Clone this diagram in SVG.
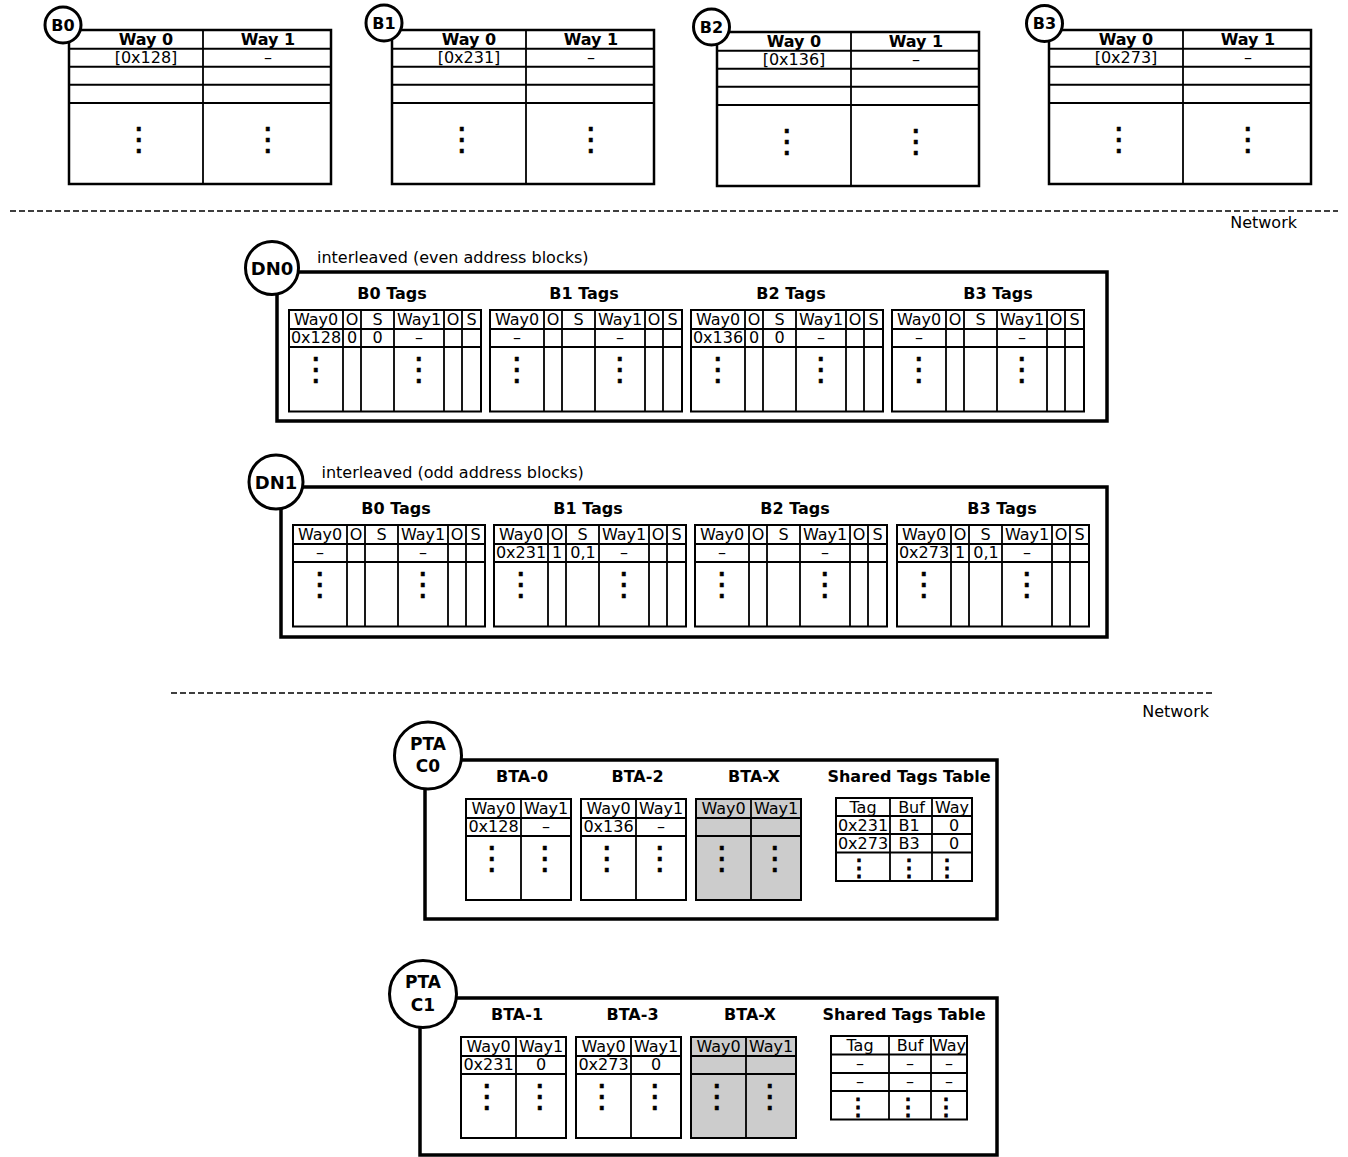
<svg xmlns="http://www.w3.org/2000/svg" xmlns:xlink="http://www.w3.org/1999/xlink" width="1348" height="1157" viewBox="0 0 1348 1157">
<style>
.t{font-family:"DejaVu Sans",Verdana,sans-serif;font-size:16px;text-anchor:middle;fill:#000}
.b{font-weight:bold}
.st{text-anchor:start}
.en{text-anchor:end}
.dots{font-family:"DejaVu Sans",sans-serif;font-size:32px;text-anchor:middle;fill:#000;stroke:#000;stroke-width:0.6}
.sdots{font-family:"DejaVu Sans",sans-serif;font-size:24px;text-anchor:middle;fill:#000;stroke:#000;stroke-width:0.9}
.frame{fill:#fff;stroke:#000;stroke-width:2.5}
.gframe{fill:#ccc;stroke:#000;stroke-width:2}
.thin{fill:#fff;stroke:#000;stroke-width:2}
.ln{stroke:#000;stroke-width:1.8;fill:none}
.ln2{stroke:#000;stroke-width:2;fill:none}
.outer{fill:#fff;stroke:#000;stroke-width:3.5}
.nc{fill:#fff;stroke:#000;stroke-width:3}
.dash{stroke:#000;stroke-width:1.6;stroke-dasharray:6 3;fill:none}
</style>
<defs>
<g id="bframe">
<rect class="frame" x="0" y="0" width="262" height="154"/>
<line class="ln" x1="134" y1="0" x2="134" y2="154"/>
<line class="ln2" x1="0" y1="18.7" x2="262" y2="18.7"/>
<line class="ln2" x1="0" y1="36.7" x2="262" y2="36.7"/>
<line class="ln2" x1="0" y1="54.7" x2="262" y2="54.7"/>
<line class="ln2" x1="0" y1="73" x2="262" y2="73"/>
</g>
<g id="dnframe">
<rect class="thin" x="0" y="0" width="192" height="101.5"/>
<path class="ln" d="M54 0V101.5M72 0V101.5M105 0V101.5M155 0V101.5M173 0V101.5M0 19H192M0 37H192"/>
</g>
<g id="btaframe">
<rect class="thin" x="0" y="0" width="105" height="101"/>
<path class="ln" d="M55 0V101M0 19H105M0 37H105"/>
</g>
<g id="btaxframe">
<rect class="gframe" x="0" y="0" width="105" height="101"/>
<path class="ln" d="M55 0V101M0 19H105M0 37H105"/>
</g>
</defs>

<g id="separators">
<line class="dash" x1="10" y1="211" x2="1338" y2="211"/>
<text class="t en" x="1297" y="227.5">Network</text>
<line class="dash" x1="171" y1="693" x2="1212" y2="693"/>
<text class="t en" x="1209" y="717">Network</text>
</g>
<g id="connectors"/>

<!-- Top banks -->
<g id="B0" transform="translate(69,30)">
<use xlink:href="#bframe"/>
<text class="t b" x="77" y="14.5">Way 0</text>
<text class="t b" x="199" y="14.5">Way 1</text>
<text class="t" x="77" y="32.5">[0x128]</text>
<text class="t" x="199" y="32.5">–</text>
<text class="dots" x="70" y="120.3">⋮</text>
<text class="dots" x="199" y="120.3">⋮</text>
<circle class="nc" cx="-6" cy="-5" r="18"/>
<text class="t b" x="-6" y="0.8">B0</text>
</g>
<g id="B1" transform="translate(392,30)">
<use xlink:href="#bframe"/>
<text class="t b" x="77" y="14.5">Way 0</text>
<text class="t b" x="199" y="14.5">Way 1</text>
<text class="t" x="77" y="32.5">[0x231]</text>
<text class="t" x="199" y="32.5">–</text>
<text class="dots" x="70" y="120.3">⋮</text>
<text class="dots" x="199" y="120.3">⋮</text>
<circle class="nc" cx="-8" cy="-7" r="18"/>
<text class="t b" x="-8" y="-1.2">B1</text>
</g>
<g id="B2" transform="translate(717,32)">
<use xlink:href="#bframe"/>
<text class="t b" x="77" y="14.5">Way 0</text>
<text class="t b" x="199" y="14.5">Way 1</text>
<text class="t" x="77" y="32.5">[0x136]</text>
<text class="t" x="199" y="32.5">–</text>
<text class="dots" x="70" y="120.3">⋮</text>
<text class="dots" x="199" y="120.3">⋮</text>
<circle class="nc" cx="-5.5" cy="-5" r="18"/>
<text class="t b" x="-5.5" y="0.8">B2</text>
</g>
<g id="B3" transform="translate(1049,30)">
<use xlink:href="#bframe"/>
<text class="t b" x="77" y="14.5">Way 0</text>
<text class="t b" x="199" y="14.5">Way 1</text>
<text class="t" x="77" y="32.5">[0x273]</text>
<text class="t" x="199" y="32.5">–</text>
<text class="dots" x="70" y="120.3">⋮</text>
<text class="dots" x="199" y="120.3">⋮</text>
<circle class="nc" cx="-4.5" cy="-6.5" r="18"/>
<text class="t b" x="-4.5" y="-0.7">B3</text>
</g>

<!-- DN0 -->
<g id="DN0">
<rect class="outer" x="277" y="272" width="830" height="149"/>
<circle class="nc" cx="272" cy="268" r="26.5"/>
<text class="t b" x="272" y="274.5" style="font-size:18px">DN0</text>
<text class="t st" x="317" y="263">interleaved (even address blocks)</text>
<text class="t b" x="392" y="299">B0 Tags</text>
<text class="t b" x="584" y="299">B1 Tags</text>
<text class="t b" x="791" y="299">B2 Tags</text>
<text class="t b" x="998" y="299">B3 Tags</text>
<g id="DN0-B0" transform="translate(289,310)">
<use xlink:href="#dnframe"/>
<text class="t" x="27" y="15">Way0</text><text class="t" x="63" y="15">O</text><text class="t" x="88.5" y="15">S</text><text class="t" x="130" y="15">Way1</text><text class="t" x="164" y="15">O</text><text class="t" x="182.5" y="15">S</text>
<text class="t" x="27" y="33">0x128</text><text class="t" x="63" y="33">0</text><text class="t" x="88.5" y="33">0</text><text class="t" x="130" y="33">–</text>
<text class="dots" x="27" y="70">⋮</text><text class="dots" x="130" y="70">⋮</text>
</g>
<g id="DN0-B1" transform="translate(490,310)">
<use xlink:href="#dnframe"/>
<text class="t" x="27" y="15">Way0</text><text class="t" x="63" y="15">O</text><text class="t" x="88.5" y="15">S</text><text class="t" x="130" y="15">Way1</text><text class="t" x="164" y="15">O</text><text class="t" x="182.5" y="15">S</text>
<text class="t" x="27" y="33">–</text><text class="t" x="130" y="33">–</text>
<text class="dots" x="27" y="70">⋮</text><text class="dots" x="130" y="70">⋮</text>
</g>
<g id="DN0-B2" transform="translate(691,310)">
<use xlink:href="#dnframe"/>
<text class="t" x="27" y="15">Way0</text><text class="t" x="63" y="15">O</text><text class="t" x="88.5" y="15">S</text><text class="t" x="130" y="15">Way1</text><text class="t" x="164" y="15">O</text><text class="t" x="182.5" y="15">S</text>
<text class="t" x="27" y="33">0x136</text><text class="t" x="63" y="33">0</text><text class="t" x="88.5" y="33">0</text><text class="t" x="130" y="33">–</text>
<text class="dots" x="27" y="70">⋮</text><text class="dots" x="130" y="70">⋮</text>
</g>
<g id="DN0-B3" transform="translate(892,310)">
<use xlink:href="#dnframe"/>
<text class="t" x="27" y="15">Way0</text><text class="t" x="63" y="15">O</text><text class="t" x="88.5" y="15">S</text><text class="t" x="130" y="15">Way1</text><text class="t" x="164" y="15">O</text><text class="t" x="182.5" y="15">S</text>
<text class="t" x="27" y="33">–</text><text class="t" x="130" y="33">–</text>
<text class="dots" x="27" y="70">⋮</text><text class="dots" x="130" y="70">⋮</text>
</g>
</g>

<!-- DN1 -->
<g id="DN1">
<rect class="outer" x="281" y="487" width="826" height="150"/>
<circle class="nc" cx="276" cy="482" r="27"/>
<text class="t b" x="276" y="488.5" style="font-size:18px">DN1</text>
<text class="t st" x="321.5" y="478">interleaved (odd address blocks)</text>
<text class="t b" x="396" y="514">B0 Tags</text>
<text class="t b" x="588" y="514">B1 Tags</text>
<text class="t b" x="795" y="514">B2 Tags</text>
<text class="t b" x="1002" y="514">B3 Tags</text>
<g id="DN1-B0" transform="translate(293,525)">
<use xlink:href="#dnframe"/>
<text class="t" x="27" y="15">Way0</text><text class="t" x="63" y="15">O</text><text class="t" x="88.5" y="15">S</text><text class="t" x="130" y="15">Way1</text><text class="t" x="164" y="15">O</text><text class="t" x="182.5" y="15">S</text>
<text class="t" x="27" y="33">–</text><text class="t" x="130" y="33">–</text>
<text class="dots" x="27" y="70">⋮</text><text class="dots" x="130" y="70">⋮</text>
</g>
<g id="DN1-B1" transform="translate(494,525)">
<use xlink:href="#dnframe"/>
<text class="t" x="27" y="15">Way0</text><text class="t" x="63" y="15">O</text><text class="t" x="88.5" y="15">S</text><text class="t" x="130" y="15">Way1</text><text class="t" x="164" y="15">O</text><text class="t" x="182.5" y="15">S</text>
<text class="t" x="27" y="33">0x231</text><text class="t" x="63" y="33">1</text><text class="t" x="89" y="33">0,1</text><text class="t" x="130" y="33">–</text>
<text class="dots" x="27" y="70">⋮</text><text class="dots" x="130" y="70">⋮</text>
</g>
<g id="DN1-B2" transform="translate(695,525)">
<use xlink:href="#dnframe"/>
<text class="t" x="27" y="15">Way0</text><text class="t" x="63" y="15">O</text><text class="t" x="88.5" y="15">S</text><text class="t" x="130" y="15">Way1</text><text class="t" x="164" y="15">O</text><text class="t" x="182.5" y="15">S</text>
<text class="t" x="27" y="33">–</text><text class="t" x="130" y="33">–</text>
<text class="dots" x="27" y="70">⋮</text><text class="dots" x="130" y="70">⋮</text>
</g>
<g id="DN1-B3" transform="translate(897,525)">
<use xlink:href="#dnframe"/>
<text class="t" x="27" y="15">Way0</text><text class="t" x="63" y="15">O</text><text class="t" x="88.5" y="15">S</text><text class="t" x="130" y="15">Way1</text><text class="t" x="164" y="15">O</text><text class="t" x="182.5" y="15">S</text>
<text class="t" x="27" y="33">0x273</text><text class="t" x="63" y="33">1</text><text class="t" x="89" y="33">0,1</text><text class="t" x="130" y="33">–</text>
<text class="dots" x="27" y="70">⋮</text><text class="dots" x="130" y="70">⋮</text>
</g>
</g>

<!-- PTA C0 -->
<g id="PTA-C0">
<rect class="outer" x="425" y="760" width="572" height="159"/>
<circle class="nc" cx="428" cy="755.5" r="33.5"/>
<text class="t b" x="428" y="749.5" style="font-size:17px">PTA</text>
<text class="t b" x="428" y="771.5" style="font-size:17px">C0</text>
<text class="t b" x="522" y="782">BTA-0</text>
<text class="t b" x="637.5" y="782">BTA-2</text>
<text class="t b" x="754" y="782">BTA-X</text>
<text class="t b" x="909" y="782">Shared Tags Table</text>
<g id="C0-BTA0" transform="translate(466,799)">
<use xlink:href="#btaframe"/>
<text class="t" x="27.5" y="15">Way0</text><text class="t" x="80" y="15">Way1</text>
<text class="t" x="27.5" y="33">0x128</text><text class="t" x="80" y="33">–</text>
<text class="dots" x="26" y="70">⋮</text><text class="dots" x="79" y="70">⋮</text>
</g>
<g id="C0-BTA2" transform="translate(581,799)">
<use xlink:href="#btaframe"/>
<text class="t" x="27.5" y="15">Way0</text><text class="t" x="80" y="15">Way1</text>
<text class="t" x="27.5" y="33">0x136</text><text class="t" x="80" y="33">–</text>
<text class="dots" x="26" y="70">⋮</text><text class="dots" x="79" y="70">⋮</text>
</g>
<g id="C0-BTAX" transform="translate(696,799)">
<use xlink:href="#btaxframe"/>
<text class="t" x="27.5" y="15">Way0</text><text class="t" x="80" y="15">Way1</text>
<text class="dots" x="26" y="70">⋮</text><text class="dots" x="79" y="70">⋮</text>
</g>
<g id="C0-STT" transform="translate(836,798)">
<rect class="thin" x="0" y="0" width="136" height="83"/>
<path class="ln" d="M54 0V83M96 0V83M0 18H136M0 36H136M0 54.5H136"/>
<text class="t" x="27" y="14.5">Tag</text><text class="t" x="75.5" y="14.5">Buf</text><text class="t" x="116" y="14.5">Way</text>
<text class="t" x="27" y="32.5">0x231</text><text class="t" x="73" y="32.5">B1</text><text class="t" x="118" y="32.5">0</text>
<text class="t" x="27" y="50.5">0x273</text><text class="t" x="73" y="50.5">B3</text><text class="t" x="118" y="50.5">0</text>
<text class="sdots" x="23" y="77.5">⋮</text><text class="sdots" x="73" y="77.5">⋮</text><text class="sdots" x="111" y="77.5">⋮</text>
</g>
</g>

<!-- PTA C1 -->
<g id="PTA-C1">
<rect class="outer" x="420" y="998" width="577" height="157"/>
<circle class="nc" cx="423" cy="994" r="33.5"/>
<text class="t b" x="423" y="988" style="font-size:17px">PTA</text>
<text class="t b" x="423" y="1010.5" style="font-size:17px">C1</text>
<text class="t b" x="517" y="1020">BTA-1</text>
<text class="t b" x="632.5" y="1020">BTA-3</text>
<text class="t b" x="750" y="1020">BTA-X</text>
<text class="t b" x="904" y="1020">Shared Tags Table</text>
<g id="C1-BTA1" transform="translate(461,1037)">
<use xlink:href="#btaframe"/>
<text class="t" x="27.5" y="15">Way0</text><text class="t" x="80" y="15">Way1</text>
<text class="t" x="27.5" y="33">0x231</text><text class="t" x="80" y="33">0</text>
<text class="dots" x="26" y="70">⋮</text><text class="dots" x="79" y="70">⋮</text>
</g>
<g id="C1-BTA3" transform="translate(576,1037)">
<use xlink:href="#btaframe"/>
<text class="t" x="27.5" y="15">Way0</text><text class="t" x="80" y="15">Way1</text>
<text class="t" x="27.5" y="33">0x273</text><text class="t" x="80" y="33">0</text>
<text class="dots" x="26" y="70">⋮</text><text class="dots" x="79" y="70">⋮</text>
</g>
<g id="C1-BTAX" transform="translate(691,1037)">
<use xlink:href="#btaxframe"/>
<text class="t" x="27.5" y="15">Way0</text><text class="t" x="80" y="15">Way1</text>
<text class="dots" x="26" y="70">⋮</text><text class="dots" x="79" y="70">⋮</text>
</g>
<g id="C1-STT" transform="translate(831,1036)">
<rect class="thin" x="0" y="0" width="136" height="83.5"/>
<path class="ln" d="M58 0V83.5M100 0V83.5M0 18.5H136M0 37H136M0 55H136"/>
<text class="t" x="29" y="14.5">Tag</text><text class="t" x="79" y="14.5">Buf</text><text class="t" x="118" y="14.5">Way</text>
<text class="t" x="29" y="32.5">–</text><text class="t" x="79" y="32.5">–</text><text class="t" x="118" y="32.5">–</text>
<text class="t" x="29" y="50.5">–</text><text class="t" x="79" y="50.5">–</text><text class="t" x="118" y="50.5">–</text>
<text class="sdots" x="27" y="79">⋮</text><text class="sdots" x="77" y="79">⋮</text><text class="sdots" x="115" y="79">⋮</text>
</g>
</g>
</svg>
